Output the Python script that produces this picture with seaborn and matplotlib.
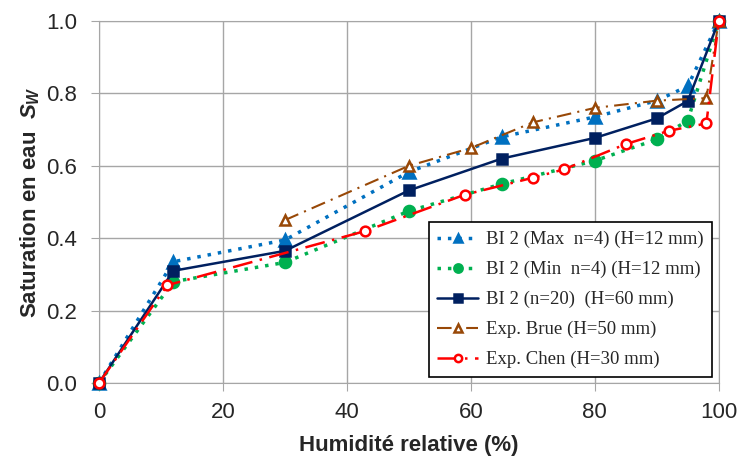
import seaborn as sns
import pandas as pd
import matplotlib.pyplot as plt
from matplotlib.ticker import FormatStrFormatter

# data
hr_bi = [0, 12, 30, 50, 65, 80, 90, 95, 100]
sw_max = [0.0, 0.335, 0.395, 0.583, 0.68, 0.735, 0.78, 0.82, 1.0]
sw_min = [0.0, 0.28, 0.333, 0.475, 0.55, 0.614, 0.673, 0.725, 1.0]
sw_mean = [0.0, 0.31, 0.365, 0.532, 0.62, 0.677, 0.731, 0.779, 1.0]

hr_brue = [30, 50, 60, 70, 80, 90, 98, 100]
sw_brue = [0.45, 0.60, 0.649, 0.72, 0.76, 0.78, 0.787, 1.0]

hr_chen = [0, 11, 43, 59, 70, 75, 85, 92, 98, 100]
sw_chen = [0.0, 0.27, 0.42, 0.52, 0.567, 0.59, 0.66, 0.697, 0.717, 1.0]

labels = ['BI 2 (Max  n=4) (H=12 mm)', 'BI 2 (Min  n=4) (H=12 mm)',
          'BI 2 (n=20)  (H=60 mm)', 'Exp. Brue (H=50 mm)', 'Exp. Chen (H=30 mm)']

sns.set_style('white')
plt.rcParams['font.family'] = ['Liberation Sans', 'DejaVu Sans']
plt.rcParams['mathtext.fontset'] = 'custom'
plt.rcParams['mathtext.it'] = 'Liberation Sans:italic:bold'
plt.rcParams['mathtext.rm'] = 'Liberation Sans:bold'

fig = plt.figure(figsize=(7.41, 4.59), dpi=100)
ax = fig.add_axes([0.1336, 0.1656, 0.8364, 0.7886])

styles = [
    dict(x=hr_bi, y=sw_max, color='#0070C0', ls=(0, (1, 2)), lw=2.5, marker='^', ms=8,
         mfc='#0070C0', mec='#0070C0'),
    dict(x=hr_bi, y=sw_min, color='#00B050', ls=(0, (1, 2)), lw=2.5, marker='o', ms=8,
         mfc='#00B050', mec='#00B050'),
    dict(x=hr_bi, y=sw_mean, color='#002060', ls='-', lw=1.8, marker='s', ms=7,
         mfc='#002060', mec='#002060'),
    dict(x=hr_brue, y=sw_brue, color='#984807', ls=(0, (7, 3, 1, 3)), lw=1.5, marker='^', ms=7,
         mfc='white', mec='#984807'),
    dict(x=hr_chen, y=sw_chen, color='#FF0000', ls=(0, (8, 3, 1, 3)), lw=1.8, marker='o', ms=7,
         mfc='white', mec='#FF0000'),
]

for lab, st in zip(labels, styles):
    x = st.pop('x')
    y = st.pop('y')
    df = pd.DataFrame({'hr': x, 'sw': y})
    sns.lineplot(data=df, x='hr', y='sw', ax=ax, sort=False, label=lab,
                 linestyle=st.pop('ls'), linewidth=st.pop('lw'),
                 markeredgewidth=1.8, clip_on=False, zorder=3, **st)

ax.set_xlim(0, 100)
ax.set_ylim(0, 1.0)
ax.set_xticks([0, 20, 40, 60, 80, 100])
ax.set_yticks([0, 0.2, 0.4, 0.6, 0.8, 1.0])
ax.yaxis.set_major_formatter(FormatStrFormatter('%.1f'))
ax.grid(True, color='#A6A6A6', lw=1)
ax.set_axisbelow(True)
for s in ax.spines.values():
    s.set_color('#A6A6A6')
ax.tick_params(axis='both', labelsize=16, length=6, color='#A6A6A6', direction='out',
               bottom=True, left=True)
ax.tick_params(axis='x', pad=8)
ax.tick_params(axis='y', pad=10)

ax.set_xlabel('Humidité relative (%)', fontsize=16, fontweight='bold', labelpad=8)
ax.set_ylabel(r'Saturation en eau  $S_W$', fontsize=16, fontweight='bold', labelpad=3)

leg = ax.legend(loc='lower right', bbox_to_anchor=(0.989, 0.017), borderaxespad=0,
                prop={'family': 'Liberation Serif', 'size': 13.5},
                frameon=True, fancybox=False, edgecolor='black', framealpha=1,
                handlelength=2.2, handletextpad=0.4, labelspacing=0.68, borderpad=0.45,
                markerscale=0.75)
leg.get_frame().set_linewidth(1.2)

fig.savefig('out.png', dpi=100)
